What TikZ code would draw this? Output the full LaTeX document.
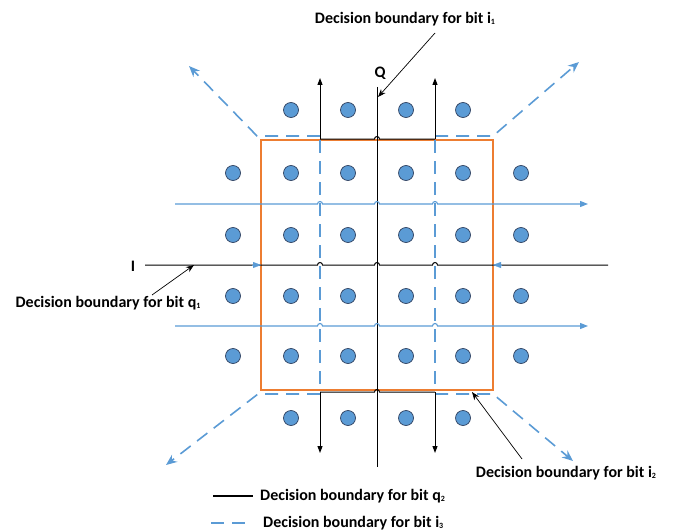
\documentclass[tikz,border=0pt]{standalone}
\usepackage{fontspec}
\setmainfont{Carlito}
\usetikzlibrary{arrows.meta}
\definecolor{dotblue}{HTML}{5B9BD5}
\definecolor{dotedge}{HTML}{2F4160}
\definecolor{rectorange}{HTML}{ED7D31}
\def\hopat#1#2{-- ({#1-2.5},#2) arc[start angle=180,end angle=360,radius=2.5]}
\newcommand\sbs[1]{\raisebox{-1.5pt}{\fontsize{8}{9}\selectfont #1}}
\begin{document}
\begin{tikzpicture}[x=1pt,y=-1pt,
  pt/.style={circle,draw=dotedge,fill=dotblue,line width=0.7pt,minimum size=15pt,inner sep=0pt},
  blk/.style={draw=black,line width=1pt},
  blkarrow/.style={blk,-{Triangle[length=7pt,width=5pt]}},
  bluel/.style={draw=dotblue,line width=1.1pt},
  bluearrow/.style={bluel,-{Triangle[length=8pt,width=6pt]}},
  bdash/.style={draw=dotblue,line width=1.6pt,dash pattern=on 13pt off 8pt},
  bdarrow/.style={bdash,-{Stealth[length=11pt,width=9pt]}},
  annot/.style={draw=black,line width=0.7pt,-{Stealth[length=8pt,width=6pt]}},
  lab/.style={font=\bfseries\fontsize{16}{18}\selectfont,inner sep=0pt}]
\useasboundingbox (0,0) rectangle (674,532);
% dots
\foreach \x [count=\i] in {291,348,406,463}{
  \node[pt] (top\i) at (\x,110) {};
  \node[pt] (bot\i) at (\x,418) {};
}
\foreach \y [count=\j] in {173,235,296,356}{
  \foreach \x [count=\i] in {233,291,348,406,463,521}{
    \node[pt] (d\j\i) at (\x,\y) {};
  }
}
% orange square
\draw[rectorange,line width=2pt] (261,140) rectangle (493,390);
% blue dashed boundaries i3
\coordinate (tlc) at (257,136);
\coordinate (trc) at (493,136);
\coordinate (blc) at (258,394);
\coordinate (brc) at (493,394);
\coordinate (tla) at (189,66);
\coordinate (tra) at (579,62);
\coordinate (bla) at (166,465);
\coordinate (bra) at (573,461);
\draw[bdarrow] (320,136) -- (tlc) -- (tla);
\draw[bdarrow] (435,136) -- (trc) -- (tra);
\draw[bdarrow] (320,394) -- (blc) -- (bla);
\draw[bdarrow] (435,394) -- (brc) -- (bra);
\draw[bdash] (320,140) -- (320,390);
\draw[bdash] (435,140) -- (435,390);
% black verticals (q2)
\draw[blkarrow] (320,139) -- (320,78);
\draw[blkarrow] (435,139) -- (435,78);
\draw[blkarrow] (320,392) -- (320,453);
\draw[blkarrow] (435,392) -- (435,453);
\draw[blk] (320,139) \hopat{377}{139} -- (435,139);
\draw[blk] (320,392) \hopat{377}{392} -- (435,392);
% Q axis
\draw[blk] (377,87) -- (377,467);
% blue horizontals
\draw[bluearrow] (175,204) \hopat{320}{204} \hopat{377}{204} \hopat{435}{204} -- (588,204);
\draw[bluearrow] (175,326) \hopat{320}{326} \hopat{377}{326} \hopat{435}{326} -- (588,326);
% I axis
\draw[blk] (145,265) \hopat{320}{265} \hopat{377}{265} \hopat{435}{265} -- (608,265);
\draw[bluearrow,line width=0.1pt] (252,265) -- (261,265);
\draw[bluearrow,line width=0.1pt] (502,265) -- (493,265);
% axis labels
\node[lab] (Q) at (380,73) {Q};
\node[lab] (I) at (133,266) {I};
% annotations
\node[lab] (l1) at (405,19) {Decision boundary for bit i\sbs{1}};
\coordinate (a1s) at (435,33);
\coordinate (a1e) at (378,97);
\draw[annot] (a1s) -- (a1e);
\node[lab] (l2) at (108,303) {Decision boundary for bit q\sbs{1}};
\coordinate (a2s) at (152,295);
\coordinate (a2e) at (194,265);
\draw[annot] (a2s) -- (a2e);
\node[lab] (l3) at (566,473) {Decision boundary for bit i\sbs{2}};
\coordinate (a3s) at (522,459);
\coordinate (a3e) at (472,392);
\draw[annot] (a3s) -- (a3e);
% legend
\coordinate (lg1a) at (213,496);
\coordinate (lg1b) at (253,496);
\draw[blk,line width=1.4pt] (lg1a) -- (lg1b);
\node[lab,anchor=west] (lt1) at (260,496) {Decision boundary for bit q\sbs{2}};
\coordinate (lg2a) at (211,523);
\coordinate (lg2b) at (252,523);
\draw[bdash] (lg2a) -- (lg2b);
\node[lab,anchor=west] (lt2) at (263,523) {Decision boundary for bit i\sbs{3}};
\end{tikzpicture}
\end{document}
